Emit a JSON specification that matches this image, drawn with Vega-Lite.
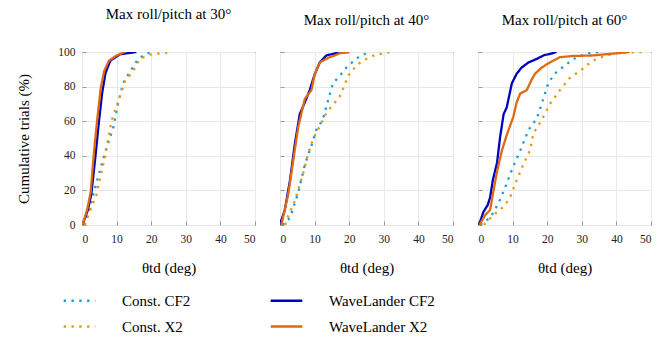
{
  "$schema": "https://vega.github.io/schema/vega-lite/v6.json",
  "padding": {"left": 16, "top": 6, "right": 5, "bottom": 5},
  "background": "white",
  "config": {
    "view": {"stroke": "black", "strokeWidth": 1},
    "font": "Liberation Serif",
    "axis": {
      "labelFont": "Liberation Serif", "labelFontSize": 11.5, "labelColor": "#222",
      "titleFont": "Liberation Serif", "titleFontSize": 15, "titleFontWeight": "normal", "titleColor": "black",
      "domain": false, "tickSize": -4, "tickColor": "#999", "grid": true, "gridColor": "#e8e8e8"
    },
    "title": {"font": "Liberation Serif", "fontSize": 15, "fontWeight": "normal", "offset": 24, "color": "black"},
    "legend": {"labelFont": "Liberation Serif"}
  },
  "spacing": 23,
  "data": {"values": [
    {"p":"30","s":"Const. CF2","x":0.3,"y":0},{"p":"30","s":"Const. CF2","x":0.8,"y":1.3},{"p":"30","s":"Const. CF2","x":2.7,"y":13.5},{"p":"30","s":"Const. CF2","x":5.1,"y":31},{"p":"30","s":"Const. CF2","x":7,"y":44},{"p":"30","s":"Const. CF2","x":9,"y":56},{"p":"30","s":"Const. CF2","x":10.4,"y":70},{"p":"30","s":"Const. CF2","x":11.9,"y":82},{"p":"30","s":"Const. CF2","x":14.3,"y":90},{"p":"30","s":"Const. CF2","x":16.2,"y":96},{"p":"30","s":"Const. CF2","x":18.6,"y":99},{"p":"30","s":"Const. CF2","x":20,"y":100},
    {"p":"30","s":"Const. X2","x":0.8,"y":0},{"p":"30","s":"Const. X2","x":1.7,"y":5},{"p":"30","s":"Const. X2","x":4.1,"y":17},{"p":"30","s":"Const. X2","x":6.6,"y":39},{"p":"30","s":"Const. X2","x":8.5,"y":60},{"p":"30","s":"Const. X2","x":10.4,"y":71},{"p":"30","s":"Const. X2","x":12.4,"y":83},{"p":"30","s":"Const. X2","x":14.8,"y":89},{"p":"30","s":"Const. X2","x":16.7,"y":96},{"p":"30","s":"Const. X2","x":19.6,"y":98.5},{"p":"30","s":"Const. X2","x":24.4,"y":99.6},{"p":"30","s":"Const. X2","x":26.3,"y":100},
    {"p":"30","s":"WaveLander CF2","x":0,"y":0},{"p":"30","s":"WaveLander CF2","x":0.3,"y":1},{"p":"30","s":"WaveLander CF2","x":1.7,"y":8.7},{"p":"30","s":"WaveLander CF2","x":2.7,"y":18},{"p":"30","s":"WaveLander CF2","x":3.9,"y":40},{"p":"30","s":"WaveLander CF2","x":4.8,"y":58},{"p":"30","s":"WaveLander CF2","x":5.8,"y":76},{"p":"30","s":"WaveLander CF2","x":6.8,"y":88},{"p":"30","s":"WaveLander CF2","x":8.2,"y":95},{"p":"30","s":"WaveLander CF2","x":11,"y":98.7},{"p":"30","s":"WaveLander CF2","x":15.7,"y":100},
    {"p":"30","s":"WaveLander X2","x":0,"y":0},{"p":"30","s":"WaveLander X2","x":0.3,"y":1},{"p":"30","s":"WaveLander X2","x":1.5,"y":9},{"p":"30","s":"WaveLander X2","x":2.5,"y":19},{"p":"30","s":"WaveLander X2","x":3.5,"y":43},{"p":"30","s":"WaveLander X2","x":4.4,"y":61},{"p":"30","s":"WaveLander X2","x":5.4,"y":79},{"p":"30","s":"WaveLander X2","x":6.4,"y":89},{"p":"30","s":"WaveLander X2","x":7.8,"y":95},{"p":"30","s":"WaveLander X2","x":10,"y":98},{"p":"30","s":"WaveLander X2","x":12.4,"y":100},

    {"p":"40","s":"Const. CF2","x":0.8,"y":0},{"p":"40","s":"Const. CF2","x":1,"y":1.3},{"p":"40","s":"Const. CF2","x":2.9,"y":4},{"p":"40","s":"Const. CF2","x":5.3,"y":19},{"p":"40","s":"Const. CF2","x":7.2,"y":35},{"p":"40","s":"Const. CF2","x":9.1,"y":46},{"p":"40","s":"Const. CF2","x":10.5,"y":55},{"p":"40","s":"Const. CF2","x":12.4,"y":61},{"p":"40","s":"Const. CF2","x":13.9,"y":72},{"p":"40","s":"Const. CF2","x":15.3,"y":82},{"p":"40","s":"Const. CF2","x":17.2,"y":86},{"p":"40","s":"Const. CF2","x":19.6,"y":92},{"p":"40","s":"Const. CF2","x":22.7,"y":97},{"p":"40","s":"Const. CF2","x":24.7,"y":99},{"p":"40","s":"Const. CF2","x":26.3,"y":100},
    {"p":"40","s":"Const. X2","x":1.5,"y":0},{"p":"40","s":"Const. X2","x":1.9,"y":3},{"p":"40","s":"Const. X2","x":4.3,"y":14},{"p":"40","s":"Const. X2","x":6.7,"y":30},{"p":"40","s":"Const. X2","x":8.1,"y":41},{"p":"40","s":"Const. X2","x":9.6,"y":50},{"p":"40","s":"Const. X2","x":11.5,"y":57},{"p":"40","s":"Const. X2","x":12.9,"y":63},{"p":"40","s":"Const. X2","x":14.3,"y":67},{"p":"40","s":"Const. X2","x":17.2,"y":74},{"p":"40","s":"Const. X2","x":18.5,"y":80},{"p":"40","s":"Const. X2","x":19.6,"y":86},{"p":"40","s":"Const. X2","x":22,"y":92},{"p":"40","s":"Const. X2","x":23.9,"y":95},{"p":"40","s":"Const. X2","x":27.2,"y":98},{"p":"40","s":"Const. X2","x":30.1,"y":99.4},{"p":"40","s":"Const. X2","x":32,"y":100},
    {"p":"40","s":"WaveLander CF2","x":0,"y":0},{"p":"40","s":"WaveLander CF2","x":0.1,"y":1},{"p":"40","s":"WaveLander CF2","x":1.4,"y":8.7},{"p":"40","s":"WaveLander CF2","x":2.9,"y":26},{"p":"40","s":"WaveLander CF2","x":4.3,"y":47},{"p":"40","s":"WaveLander CF2","x":5.7,"y":64},{"p":"40","s":"WaveLander CF2","x":7.2,"y":71},{"p":"40","s":"WaveLander CF2","x":8.6,"y":78},{"p":"40","s":"WaveLander CF2","x":10,"y":87},{"p":"40","s":"WaveLander CF2","x":11.5,"y":94},{"p":"40","s":"WaveLander CF2","x":13.4,"y":98},{"p":"40","s":"WaveLander CF2","x":16.7,"y":99.6},{"p":"40","s":"WaveLander CF2","x":20,"y":100},
    {"p":"40","s":"WaveLander X2","x":0.3,"y":0},{"p":"40","s":"WaveLander X2","x":0.5,"y":1},{"p":"40","s":"WaveLander X2","x":2.4,"y":18},{"p":"40","s":"WaveLander X2","x":3.8,"y":37},{"p":"40","s":"WaveLander X2","x":5.3,"y":57},{"p":"40","s":"WaveLander X2","x":7.2,"y":73},{"p":"40","s":"WaveLander X2","x":9.1,"y":78},{"p":"40","s":"WaveLander X2","x":10,"y":87},{"p":"40","s":"WaveLander X2","x":11.5,"y":94},{"p":"40","s":"WaveLander X2","x":14.3,"y":97},{"p":"40","s":"WaveLander X2","x":15.8,"y":98},{"p":"40","s":"WaveLander X2","x":17.7,"y":99.6},{"p":"40","s":"WaveLander X2","x":20,"y":100},

    {"p":"60","s":"Const. CF2","x":0.8,"y":0},{"p":"60","s":"Const. CF2","x":1.1,"y":1.3},{"p":"60","s":"Const. CF2","x":3.5,"y":4},{"p":"60","s":"Const. CF2","x":5.9,"y":12.5},{"p":"60","s":"Const. CF2","x":7.9,"y":22},{"p":"60","s":"Const. CF2","x":9.8,"y":32},{"p":"60","s":"Const. CF2","x":12.2,"y":43},{"p":"60","s":"Const. CF2","x":14.6,"y":55},{"p":"60","s":"Const. CF2","x":17,"y":61.5},{"p":"60","s":"Const. CF2","x":18.9,"y":73},{"p":"60","s":"Const. CF2","x":20.3,"y":82},{"p":"60","s":"Const. CF2","x":22.2,"y":87.5},{"p":"60","s":"Const. CF2","x":25.6,"y":93},{"p":"60","s":"Const. CF2","x":28.5,"y":97},{"p":"60","s":"Const. CF2","x":32.3,"y":99.4},{"p":"60","s":"Const. CF2","x":35.2,"y":100},
    {"p":"60","s":"Const. X2","x":1.8,"y":0},{"p":"60","s":"Const. X2","x":2.1,"y":1},{"p":"60","s":"Const. X2","x":4.5,"y":5.8},{"p":"60","s":"Const. X2","x":7.4,"y":10.6},{"p":"60","s":"Const. X2","x":9.3,"y":16},{"p":"60","s":"Const. X2","x":11.2,"y":26},{"p":"60","s":"Const. X2","x":13.1,"y":35},{"p":"60","s":"Const. X2","x":15,"y":43},{"p":"60","s":"Const. X2","x":16,"y":53},{"p":"60","s":"Const. X2","x":18.4,"y":60.6},{"p":"60","s":"Const. X2","x":20.8,"y":70},{"p":"60","s":"Const. X2","x":23.7,"y":78},{"p":"60","s":"Const. X2","x":26.5,"y":85},{"p":"60","s":"Const. X2","x":29.4,"y":89},{"p":"60","s":"Const. X2","x":33.2,"y":95},{"p":"60","s":"Const. X2","x":37,"y":98},{"p":"60","s":"Const. X2","x":40.9,"y":99.6},{"p":"60","s":"Const. X2","x":47.6,"y":100},
    {"p":"60","s":"WaveLander CF2","x":0.3,"y":0},{"p":"60","s":"WaveLander CF2","x":0.5,"y":1.3},{"p":"60","s":"WaveLander CF2","x":1.6,"y":7.7},{"p":"60","s":"WaveLander CF2","x":2.8,"y":11.5},{"p":"60","s":"WaveLander CF2","x":3.5,"y":16},{"p":"60","s":"WaveLander CF2","x":4.3,"y":26},{"p":"60","s":"WaveLander CF2","x":5.5,"y":36},{"p":"60","s":"WaveLander CF2","x":6.4,"y":51},{"p":"60","s":"WaveLander CF2","x":7.4,"y":64},{"p":"60","s":"WaveLander CF2","x":8.3,"y":68},{"p":"60","s":"WaveLander CF2","x":9.8,"y":82},{"p":"60","s":"WaveLander CF2","x":11.2,"y":87.5},{"p":"60","s":"WaveLander CF2","x":12.6,"y":91},{"p":"60","s":"WaveLander CF2","x":14.6,"y":94},{"p":"60","s":"WaveLander CF2","x":17,"y":96},{"p":"60","s":"WaveLander CF2","x":18.9,"y":98},{"p":"60","s":"WaveLander CF2","x":21.7,"y":99.4},{"p":"60","s":"WaveLander CF2","x":22.7,"y":100},
    {"p":"60","s":"WaveLander X2","x":0.5,"y":0},{"p":"60","s":"WaveLander X2","x":0.7,"y":1},{"p":"60","s":"WaveLander X2","x":2.1,"y":5.8},{"p":"60","s":"WaveLander X2","x":3.5,"y":8.7},{"p":"60","s":"WaveLander X2","x":4.5,"y":20},{"p":"60","s":"WaveLander X2","x":5.5,"y":31},{"p":"60","s":"WaveLander X2","x":6.9,"y":43},{"p":"60","s":"WaveLander X2","x":8.3,"y":52},{"p":"60","s":"WaveLander X2","x":10.2,"y":62.5},{"p":"60","s":"WaveLander X2","x":11.2,"y":71},{"p":"60","s":"WaveLander X2","x":12.2,"y":76},{"p":"60","s":"WaveLander X2","x":14.1,"y":78},{"p":"60","s":"WaveLander X2","x":15.5,"y":84},{"p":"60","s":"WaveLander X2","x":16.5,"y":87.5},{"p":"60","s":"WaveLander X2","x":18.4,"y":91},{"p":"60","s":"WaveLander X2","x":20.8,"y":94},{"p":"60","s":"WaveLander X2","x":23.7,"y":97},{"p":"60","s":"WaveLander X2","x":27.5,"y":97.7},{"p":"60","s":"WaveLander X2","x":33.2,"y":98},{"p":"60","s":"WaveLander X2","x":37,"y":98.7},{"p":"60","s":"WaveLander X2","x":40.9,"y":99.4},{"p":"60","s":"WaveLander X2","x":43.8,"y":100}
  ]},
  "hconcat": [
    {
      "title": "Max roll/pitch at 30°",
      "width": 173, "height": 173,
      "transform": [{"filter": "datum.p == '30'"}],
      "mark": {"type": "line", "strokeWidth": 2.3, "strokeCap": "butt", "clip": true},
      "encoding": {
        "x": {"field": "x", "type": "quantitative", "scale": {"domain": [0, 50], "nice": false},
          "axis": {"title": "θtd (deg)", "values": [0,10,20,30,40,50], "labelPadding": 12, "titlePadding": 16}},
        "y": {"field": "y", "type": "quantitative", "scale": {"domain": [0, 100], "nice": false},
          "axis": {"title": "Cumulative trials (%)", "values": [0,20,40,60,80,100], "labelPadding": 11, "titlePadding": 26}},
        "color": {"field": "s", "type": "nominal",
          "scale": {"domain": ["Const. CF2", "WaveLander CF2", "Const. X2", "WaveLander X2"], "range": ["#1a9be0", "#0000c0", "#e8960f", "#e06a10"]},
          "legend": {"title": null, "orient": "none", "legendX": -20, "legendY": 231, "columns": 2, "direction": "horizontal",
            "symbolType": "stroke", "symbolSize": 1000, "symbolStrokeWidth": 2.5,
            "labelFont": "Liberation Serif", "labelFontSize": 15, "labelColor": "black", "labelOffset": 25,
            "columnPadding": 74, "rowPadding": -15}},
        "strokeDash": {"field": "s", "type": "nominal",
          "scale": {"domain": ["Const. CF2", "WaveLander CF2", "Const. X2", "WaveLander X2"], "range": [[2.3, 5.5], [1, 0], [2.3, 5.5], [1, 0]]},
          "legend": null}
      }
    },
    {
      "title": "Max roll/pitch at 40°",
      "width": 173, "height": 173,
      "transform": [{"filter": "datum.p == '40'"}],
      "mark": {"type": "line", "strokeWidth": 2.3, "strokeCap": "butt", "clip": true},
      "encoding": {
        "x": {"field": "x", "type": "quantitative", "scale": {"domain": [0, 50], "nice": false},
          "axis": {"title": "θtd (deg)", "values": [0,10,20,30,40,50], "labelPadding": 12, "titlePadding": 16}},
        "y": {"field": "y", "type": "quantitative", "scale": {"domain": [0, 100], "nice": false},
          "axis": {"title": null, "labels": false, "values": [0,20,40,60,80,100]}},
        "color": {"field": "s", "type": "nominal",
          "scale": {"domain": ["Const. CF2", "WaveLander CF2", "Const. X2", "WaveLander X2"], "range": ["#1a9be0", "#0000c0", "#e8960f", "#e06a10"]},
          "legend": null},
        "strokeDash": {"field": "s", "type": "nominal",
          "scale": {"domain": ["Const. CF2", "WaveLander CF2", "Const. X2", "WaveLander X2"], "range": [[2.3, 5.5], [1, 0], [2.3, 5.5], [1, 0]]},
          "legend": null}
      }
    },
    {
      "title": "Max roll/pitch at 60°",
      "width": 173, "height": 173,
      "transform": [{"filter": "datum.p == '60'"}],
      "mark": {"type": "line", "strokeWidth": 2.3, "strokeCap": "butt", "clip": true},
      "encoding": {
        "x": {"field": "x", "type": "quantitative", "scale": {"domain": [0, 50], "nice": false},
          "axis": {"title": "θtd (deg)", "values": [0,10,20,30,40,50], "labelPadding": 12, "titlePadding": 16}},
        "y": {"field": "y", "type": "quantitative", "scale": {"domain": [0, 100], "nice": false},
          "axis": {"title": null, "labels": false, "values": [0,20,40,60,80,100]}},
        "color": {"field": "s", "type": "nominal",
          "scale": {"domain": ["Const. CF2", "WaveLander CF2", "Const. X2", "WaveLander X2"], "range": ["#1a9be0", "#0000c0", "#e8960f", "#e06a10"]},
          "legend": null},
        "strokeDash": {"field": "s", "type": "nominal",
          "scale": {"domain": ["Const. CF2", "WaveLander CF2", "Const. X2", "WaveLander X2"], "range": [[2.3, 5.5], [1, 0], [2.3, 5.5], [1, 0]]},
          "legend": null}
      }
    }
  ]
}
